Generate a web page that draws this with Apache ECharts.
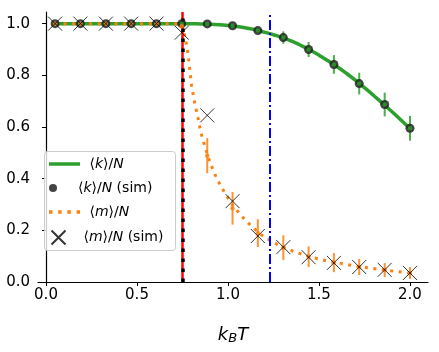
<!DOCTYPE html>
<html>
<head>
<meta charset="utf-8">
<script src="https://cdn.jsdelivr.net/npm/echarts@6/dist/echarts.min.js"></script>
<style>
  html, body { margin: 0; padding: 0; background: #fff; }
  #chart { width: 439px; height: 352px; }
</style>
</head>
<body>
<div id="chart"></div>
<script>
// simulation temperatures
const temps = [0.05, 0.189, 0.329, 0.468, 0.607, 0.746, 0.886, 1.025, 1.164, 1.304, 1.443, 1.582, 1.721, 1.861, 2.0];
// <k>/N simulation + error
const kSim = [1, 1, 1, 1, 1, 1, 0.999, 0.992, 0.973, 0.946, 0.900, 0.842, 0.768, 0.687, 0.595];
const kErr = [0, 0, 0, 0, 0, 0, 0.003, 0.005, 0.008, 0.024, 0.029, 0.036, 0.042, 0.046, 0.048];
// <m>/N simulation (errorbar run) + error
const mSim = [1, 1, 1, 1, 1, 0.99, 0.489, 0.285, 0.189, 0.133, 0.098, 0.075, 0.058, 0.046, 0.035];
const mErr = [0, 0, 0, 0, 0, 0.01, 0.068, 0.063, 0.054, 0.048, 0.040, 0.037, 0.031, 0.027, 0.023];
// <m>/N simulation (crosses)
const mSimX = [1, 1, 1, 1, 1, 0.965, 0.645, 0.313, 0.178, 0.135, 0.096, 0.074, 0.058, 0.047, 0.035];

// theory curves
const kCurveT = [0.05, 0.3, 0.5, 0.7, 0.8, 0.85, 0.9, 0.95, 1.0, 1.05, 1.1, 1.15, 1.2, 1.25, 1.3, 1.35, 1.4, 1.45, 1.5, 1.55, 1.6, 1.65, 1.7, 1.75, 1.8, 1.85, 1.9, 1.95, 2.0];
const kCurve  = [1, 1, 1, 1, 1, 0.999, 0.998, 0.996, 0.993, 0.989, 0.983, 0.976, 0.967, 0.957, 0.946, 0.932, 0.916, 0.898, 0.878, 0.856, 0.833, 0.808, 0.781, 0.752, 0.722, 0.691, 0.66, 0.627, 0.594];
const mCurveT = [0.05, 0.3, 0.5, 0.7, 0.74, 0.75, 0.76, 0.77, 0.78, 0.79, 0.8, 0.815, 0.835, 0.85, 0.875, 0.9, 0.935, 0.96, 0.98, 1.0, 1.03, 1.075, 1.11, 1.14, 1.18, 1.25, 1.3, 1.37, 1.41, 1.47, 1.54, 1.62, 1.73, 1.79, 1.85, 1.92, 2.0];
const mCurve  = [1, 1, 1, 1, 1, 0.99, 0.96, 0.925, 0.885, 0.822, 0.76, 0.70, 0.637, 0.58, 0.52, 0.465, 0.405, 0.372, 0.348, 0.325, 0.293, 0.255, 0.229, 0.209, 0.184, 0.153, 0.135, 0.116, 0.107, 0.094, 0.082, 0.072, 0.058, 0.053, 0.047, 0.041, 0.035];

// vertical reference lines
const tCrit = 0.746;
const tOther = 1.23;

const xTicks = [0, 0.5, 1.0, 1.5, 2.0];
const yTicks = [0, 0.2, 0.4, 0.6, 0.8, 1.0];

const GREEN = '#2ca02c';
const ORANGE = '#ff7f0e';
const FONT = 'DejaVu Sans';

const names = {
  k: '\u27e8k\u27e9/N',
  kSim: '\u27e8k\u27e9/N (sim)',
  m: '\u27e8m\u27e9/N',
  mSim: '\u27e8m\u27e9/N (sim)'
};
const richNames = {};
richNames[names.k] = '{a|\u27e8}{i|k}{a|\u27e9/}{i|N}';
richNames[names.kSim] = '{a|\u27e8}{i|k}{a|\u27e9/}{i|N}{a| (sim)}';
richNames[names.m] = '{a|\u27e8}{i|m}{a|\u27e9/}{i|N}';
richNames[names.mSim] = '{a|\u27e8}{i|m}{a|\u27e9/}{i|N}{a| (sim)}';

const legendText = {
  fontFamily: FONT, fontSize: 14, lineHeight: 16, color: '#000',
  rich: {
    a: { fontFamily: FONT, fontSize: 14, color: '#000', lineHeight: 16 },
    i: { fontFamily: FONT, fontSize: 14, fontStyle: 'italic', color: '#000', lineHeight: 16 }
  }
};
function legendFor(name, centerY, h, icon) {
  const item = { name: name };
  if (icon) item.icon = icon;
  return {
    data: [item], orient: 'vertical', left: 49, top: centerY - 8, padding: 0, z: 10,
    itemWidth: 31, itemHeight: h, selectedMode: false,
    formatter: n => ' ' + richNames[n], textStyle: legendText
  };
}

function errBars(color, vals, errs) {
  return {
    type: 'custom', silent: true, z: 4,
    data: temps.map((t, i) => [t, vals[i], errs[i]]),
    encode: { x: 0, y: 1 },
    renderItem: (params, api) => {
      const x = api.value(0), y = api.value(1), e = api.value(2);
      if (!e) return null;
      const p1 = api.coord([x, y - e]);
      const p2 = api.coord([x, y + e]);
      return {
        type: 'line',
        shape: { x1: p1[0], y1: p1[1], x2: p2[0], y2: p2[1] },
        style: { stroke: color, lineWidth: 2, opacity: 0.85 }
      };
    }
  };
}

const chart = echarts.init(document.getElementById('chart'), null, { renderer: 'canvas' });
chart.setOption({
  animation: false,
  backgroundColor: '#fff',
  textStyle: { fontFamily: FONT },
  grid: { left: 38, right: 11, top: 12, bottom: 70 },
  xAxis: {
    type: 'value', min: -0.044, max: 2.099,
    axisLine: { lineStyle: { color: '#000', width: 1.2 } },
    axisTick: { show: true, length: 4, lineStyle: { color: '#000', width: 1 }, customValues: xTicks },
    axisLabel: { fontFamily: FONT, fontSize: 15, color: '#000', margin: 6, customValues: xTicks, formatter: v => v.toFixed(1) },
    splitLine: { show: false },
    name: '{i|k}{s|B}{i|T}',
    nameLocation: 'middle', nameGap: 43,
    nameTextStyle: {
      rich: {
        i: { fontFamily: FONT, fontSize: 18, fontStyle: 'italic', color: '#000' },
        s: { fontFamily: FONT, fontSize: 13, fontStyle: 'italic', color: '#000', padding: [7, 0, 0, 0] }
      }
    }
  },
  yAxis: {
    type: 'value', min: 0, max: 1.045,
    axisLine: { show: true, lineStyle: { color: '#000', width: 1.2 } },
    axisTick: { show: true, length: 4, lineStyle: { color: '#000', width: 1 }, customValues: yTicks },
    axisLabel: { fontFamily: FONT, fontSize: 15, color: '#000', margin: 8, customValues: yTicks, formatter: v => v.toFixed(1) },
    splitLine: { show: false }
  },
  legend: [
    legendFor(names.k, 164, 14, 'path://M0,0H31V3.5H0Z'),
    legendFor(names.kSim, 188, 8),
    legendFor(names.m, 212, 14, 'path://M0,0h3v3h-3zM8,0h3v3h-3zM16,0h3v3h-3zM24,0h3v3h-3z'),
    legendFor(names.mSim, 236, 14)
  ],
  graphic: [{
    type: 'rect', left: 44, top: 151, z: 9,
    shape: { width: 131, height: 99, r: 3 },
    style: { fill: 'rgba(255,255,255,0.8)', stroke: '#cccccc', lineWidth: 1 }
  }],
  series: [
    {
      name: names.k, type: 'line', z: 2, silent: true,
      data: kCurveT.map((t, i) => [t, kCurve[i]]),
      symbol: 'none', smooth: true,
      lineStyle: { color: GREEN, width: 3.5 },
      itemStyle: { color: GREEN }
    },
    {
      name: names.m, type: 'line', z: 3, silent: true,
      data: mCurveT.map((t, i) => [t, mCurve[i]]),
      symbol: 'none',
      lineStyle: { color: ORANGE, width: 3, type: [3, 5.5], cap: 'butt' },
      itemStyle: { color: ORANGE },
      markLine: {
        silent: true, symbol: 'none', label: { show: false },
        data: [
          { xAxis: tCrit, lineStyle: { color: '#ff0000', width: 2.5, type: 'solid' } },
          { xAxis: tCrit, lineStyle: { color: '#000', width: 3.5, type: [3.5, 6.5] } },
          { xAxis: tOther, lineStyle: { color: '#0000ff', width: 2, type: [10, 3, 2, 3] } }
        ]
      }
    },
    errBars(GREEN, kSim, kErr),
    errBars(ORANGE, mSim, mErr),
    {
      name: names.kSim, type: 'scatter', z: 6, silent: true,
      data: temps.map((t, i) => [t, kSim[i]]),
      symbol: 'circle', symbolSize: 9,
      itemStyle: { color: '#222', opacity: 0.85 }
    },
    {
      type: 'scatter', z: 7, silent: true,
      data: temps.map((t, i) => [t, kSim[i]]),
      symbol: 'circle', symbolSize: 4.5,
      itemStyle: { color: GREEN }
    },
    {
      type: 'scatter', z: 7, silent: true,
      data: temps.map((t, i) => [t, mSim[i]]),
      symbol: 'circle', symbolSize: 4.5,
      itemStyle: { color: ORANGE }
    },
    {
      name: names.mSim, type: 'scatter', z: 8, silent: true,
      data: temps.map((t, i) => [t, mSimX[i]]),
      symbol: 'path://M0,0L10,10M10,0L0,10', symbolSize: 14,
      itemStyle: { color: 'none', borderColor: '#000', borderWidth: 1 }
    }
  ]
});
</script>
</body>
</html>
